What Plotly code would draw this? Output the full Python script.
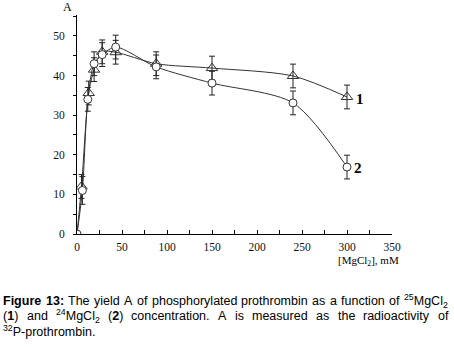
import plotly.graph_objects as go

# Series 1: 25MgCl2 (triangles)
x1 = [0, 5, 13, 19, 28, 43, 88, 150, 240, 300]
y1 = [0, 12, 35.6, 41.5, 46, 45.9, 43, 41.9, 39.9, 34.6]
e1 = [0.5, 3, 3, 3, 3, 3, 3, 3, 3, 3]

# Series 2: 24MgCl2 (circles)
x2 = [0, 6, 12, 19, 28, 43, 88, 150, 240, 300]
y2 = [0, 11, 34, 43, 45.3, 47.2, 42.2, 38.1, 33.1, 16.9]
e2 = [0.5, 3.5, 3, 3, 3, 3, 3, 3, 3, 3]

xticks = [0, 50, 100, 150, 200, 250, 300, 350]
yticks = [0, 10, 20, 30, 40, 50]

serif = "Liberation Serif, Times New Roman, serif"
sans = "Liberation Sans, Arial, sans-serif"

fig = go.Figure()
fig.add_trace(go.Scatter(
    x=x1, y=y1, mode="lines+markers", line=dict(color="#333", width=1, shape="spline", smoothing=0.8),
    marker=dict(symbol="triangle-up-open", size=10, color="#333", line=dict(width=1)),
    error_y=dict(type="data", array=e1, color="#222", thickness=1, width=3),
    showlegend=False))
fig.add_trace(go.Scatter(
    x=x2, y=y2, mode="lines+markers", line=dict(color="#333", width=1, shape="spline", smoothing=0.8),
    marker=dict(symbol="circle", size=8, color="white", line=dict(width=1, color="#333")),
    error_y=dict(type="data", array=e2, color="#222", thickness=1, width=3),
    showlegend=False))

fig.update_xaxes(range=[0, 350], tickvals=xticks, ticks="inside", ticklen=4, tickcolor="black",
                 showline=True, linecolor="black", linewidth=1, showgrid=False, zeroline=False,
                 minor=dict(dtick=25, tick0=0, ticks="inside", ticklen=4, tickcolor="black"),
                 tickfont=dict(family=serif, size=11.5, color="#111"), ticklabelstandoff=2)
fig.update_yaxes(range=[0, 55.3], tickvals=yticks, ticks="outside", ticklen=3, tickcolor="black",
                 showline=True, linecolor="black", linewidth=1, showgrid=False, zeroline=False,
                 minor=dict(dtick=5, tick0=0, ticks="outside", ticklen=3, tickcolor="black"),
                 tickfont=dict(family=serif, size=11.5, color="#111"), ticklabelstandoff=6)

W, H = 454, 347
L, R, T, B = 77, 62, 15, 113
pw, ph = W - L - R, H - T - B

def px2paper(px, py):
    return (px - L) / pw, (H - py - B) / ph

ann = []
def label(px, py, text, font, anchor="center"):
    x, y = px2paper(px, py)
    ann.append(dict(xref="paper", yref="paper", x=x, y=y, text=text, showarrow=False,
                    xanchor=anchor, yanchor="middle", font=font, borderpad=0))

label(67, 7, "A", dict(family=serif, size=12, color="black"))
label(368, 261, "[MgCl<sub>2</sub>], mM", dict(family=serif, size=11, color="black"))
label(360, 99, "<b>1</b>", dict(family=serif, size=15, color="black"))
label(358, 168, "<b>2</b>", dict(family=serif, size=15, color="black"))

# --- justified caption (Arial metrics, 1/1000 em) ---
REG = {' ': 278, '(': 333, ')': 333, '.': 278, ':': 278, '-': 333, 'A': 667, 'C': 722, 'F': 611,
       'M': 833, 'P': 667, 'T': 611, 'a': 556, 'b': 556, 'c': 500, 'd': 556, 'e': 556, 'f': 278,
       'g': 556, 'h': 556, 'i': 222, 'l': 222, 'm': 833, 'n': 556, 'o': 556, 'p': 556, 'r': 333,
       's': 500, 't': 278, 'u': 556, 'v': 500, 'y': 500}
BOLD = {'F': 611, 'i': 278, 'g': 611, 'u': 611, 'r': 389, 'e': 556, ':': 333, '(': 333, ')': 333}
CAP = 12.5

def word_width(parts):
    w = 0
    for txt, kind in parts:
        for ch in txt:
            if ch.isdigit():
                base = 556
            elif kind == "b":
                base = BOLD.get(ch, REG.get(ch, 556))
            else:
                base = REG.get(ch, 556)
            w += base * (0.7 if kind in ("sup", "sub") else 1.0)
    return w / 1000 * CAP

def to_html(parts):
    out = ""
    for txt, kind in parts:
        out += txt if kind == "n" else f"<{kind}>{txt}</{kind}>"
    return out

cap_font = dict(family=sans, size=CAP, color="black")
def justify(words, py, x0=2, x1=447):
    widths = [word_width(w) for w in words]
    gap = (x1 - x0 - sum(widths)) / (len(words) - 1)
    px = x0
    for w, wd in zip(words, widths):
        label(px, py, to_html(w), cap_font, anchor="left")
        px += wd + gap

line1 = [[("Figure", "b")], [("13:", "b")], [("The", "n")], [("yield", "n")], [("A", "n")],
         [("of", "n")], [("phosphorylated", "n")], [("prothrombin", "n")], [("as", "n")],
         [("a", "n")], [("function", "n")], [("of", "n")],
         [("25", "sup"), ("MgCl", "n"), ("2", "sub")]]
line2 = [[("(", "n"), ("1", "b"), (")", "n")], [("and", "n")],
         [("24", "sup"), ("MgCl", "n"), ("2", "sub")], [("(", "n"), ("2", "b"), (")", "n")],
         [("concentration.", "n")], [("A", "n")], [("is", "n")], [("measured", "n")],
         [("as", "n")], [("the", "n")], [("radioactivity", "n")], [("of", "n")]]
justify(line1, 301)
justify(line2, 316)
label(2, 331, "<sup>32</sup>P-prothrombin.", cap_font, anchor="left")

fig.update_layout(width=W, height=H, margin=dict(l=L, r=R, t=T, b=B),
                  plot_bgcolor="white", paper_bgcolor="white", annotations=ann)
fig.write_html("out.html", config={"displayModeBar": False},
               post_script="document.body.style.margin='0';")
